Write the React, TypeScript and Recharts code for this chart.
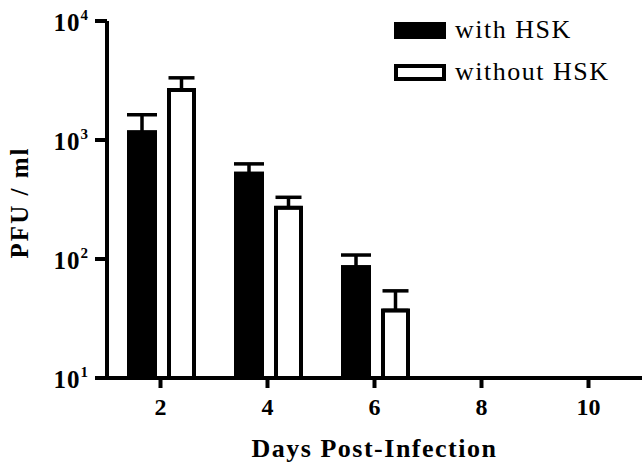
import { BarChart, Bar, XAxis, YAxis, ErrorBar, Legend } from 'recharts';

const days = ['2', '4', '6', '8', '10'];
const withHsk = [1170, 525, 86, null, null];
const withHskErr = [460, 105, 22, null, null];
const withoutHsk = [2630, 270, 37, null, null];
const withoutHskErr = [700, 60, 17, null, null];
const yTicks = [10, 100, 1000, 10000];

const FONT = '"Liberation Serif", "Times New Roman", Times, serif';

const data = days.map((day, i) => ({
  day,
  withHsk: withHsk[i],
  withHskErr: withHskErr[i] == null ? undefined : [0, withHskErr[i]],
  withoutHsk: withoutHsk[i],
  withoutHskErr: withoutHskErr[i] == null ? undefined : [0, withoutHskErr[i]],
}));

function YTick({ x, y, payload }: any) {
  const exp = Math.round(Math.log10(payload.value));
  return (
    <text x={x - 7} y={y + 10} textAnchor="end" fontFamily={FONT} fontWeight="bold" fontSize={25} fill="#000">
      <tspan letterSpacing={1}>10</tspan>
      <tspan dy={-11} fontSize={15}>{exp}</tspan>
    </text>
  );
}

function XTick({ x, y, payload }: any) {
  return (
    <text x={x} y={y + 27} textAnchor="middle" fontFamily={FONT} fontWeight="bold" fontSize={24} fill="#000">
      {payload.value}
    </text>
  );
}

function XTitle({ viewBox }: any) {
  return (
    <text
      x={viewBox.x + viewBox.width / 2}
      y={viewBox.y + 79}
      textAnchor="middle"
      fontFamily={FONT}
      fontWeight="bold"
      fontSize={26}
      letterSpacing={1.5}
      fill="#000"
    >
      Days Post-Infection
    </text>
  );
}

function YTitle({ viewBox }: any) {
  const cx = 28;
  const cy = viewBox.y + viewBox.height / 2 + 3;
  return (
    <text
      x={cx}
      y={cy}
      transform={`rotate(-90, ${cx}, ${cy})`}
      textAnchor="middle"
      fontFamily={FONT}
      fontWeight="bold"
      fontSize={25}
      letterSpacing={2}
      fill="#000"
    >
      PFU / ml
    </text>
  );
}

function LegendBox({ payload }: any) {
  return (
    <div style={{ fontFamily: FONT, fontSize: 26, letterSpacing: 1.5, color: '#000' }}>
      {(payload || []).map((entry: any) => (
        <div key={entry.value} style={{ display: 'flex', alignItems: 'center', height: 42 }}>
          <div
            style={{
              width: 52,
              height: 17,
              boxSizing: 'border-box',
              background: entry.color,
              border: '4px solid #000',
              marginRight: 9,
            }}
          />
          <span style={{ lineHeight: 1 }}>{entry.value}</span>
        </div>
      ))}
    </div>
  );
}

export default function App() {
  return (
    <div style={{ position: 'absolute', left: 0, top: 0, background: '#fff' }}>
      <BarChart
        width={642}
        height={465}
        data={data}
        margin={{ top: 21, right: 0, bottom: 0, left: 0 }}
        barGap={12}
      >
        <XAxis
          dataKey="day"
          height={87}
          axisLine={{ stroke: '#000', strokeWidth: 4 }}
          tickLine={{ stroke: '#000', strokeWidth: 4 }}
          tickSize={10}
          tickMargin={0}
          tick={<XTick />}
          interval={0}
          label={{ content: <XTitle /> }}
        />
        <YAxis
          scale="log"
          domain={[10, 10000]}
          ticks={yTicks}
          allowDataOverflow
          width={107}
          axisLine={{ stroke: '#000', strokeWidth: 4 }}
          tickLine={{ stroke: '#000', strokeWidth: 4 }}
          tickSize={12}
          tickMargin={0}
          tick={<YTick />}
          interval={0}
          label={{ content: <YTitle /> }}
        />
        <Legend
          layout="vertical"
          align="center"
          verticalAlign="middle"
          content={<LegendBox />}
          wrapperStyle={{ position: 'absolute', left: 394, top: 9, width: 240 }}
        />
        <Bar dataKey="withHsk" name="with HSK" fill="#000" barSize={30} isAnimationActive={false}>
          <ErrorBar dataKey="withHskErr" direction="y" width={15} stroke="#000" strokeWidth={3.5} isAnimationActive={false} />
        </Bar>
        <Bar
          dataKey="withoutHsk"
          name="without HSK"
          fill="#fff"
          stroke="#000"
          strokeWidth={4}
          barSize={25}
          isAnimationActive={false}
        >
          <ErrorBar dataKey="withoutHskErr" direction="y" width={13} stroke="#000" strokeWidth={3.5} isAnimationActive={false} />
        </Bar>
      </BarChart>
    </div>
  );
}
